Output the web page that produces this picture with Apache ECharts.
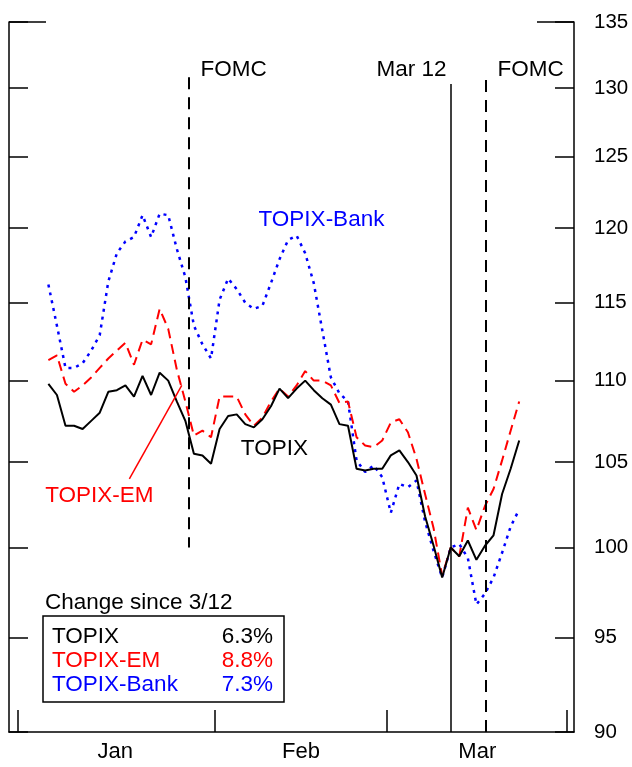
<!DOCTYPE html>
<html>
<head>
<meta charset="utf-8">
<script src="https://cdn.jsdelivr.net/npm/echarts@6/dist/echarts.min.js"></script>
<style>
  html, body { margin: 0; padding: 0; background: #fff; }
  #main { width: 632px; height: 767px; }
</style>
</head>
<body>
<div id="main"></div>
<script>
// trading days, index 47 = Mar 12 (=100)
var topix = [109.8,109.1,107.2,107.2,107.0,107.5,108.0,109.3,109.4,109.7,
             109.0,110.3,109.1,110.5,110.0,108.7,107.5,105.5,105.4,104.9,
             107.0,107.8,107.9,107.3,107.1,107.6,108.4,109.5,108.9,109.5,
             110.0,109.4,108.9,108.5,107.3,107.2,104.6,104.5,104.6,104.6,
             105.4,105.7,105.0,104.2,101.8,100.1,98.3,100.0,99.5,100.4,
             99.3,100.1,100.7,103.1,104.6,106.3];
var topixEM = [111.3,111.6,109.8,109.3,109.7,110.2,110.8,111.4,111.9,112.4,
               111.0,112.6,112.3,114.6,113.3,110.7,108.7,106.6,106.9,106.5,
               109.0,109.0,109.0,107.9,107.2,107.7,108.7,109.5,109.0,109.7,
               110.6,110.0,110.0,109.7,108.6,108.7,106.5,106.0,105.9,106.3,
               107.4,107.6,106.8,105.2,103.1,101.1,98.4,100.0,99.5,102.3,
               101.0,102.4,103.4,105.1,106.9,108.7];
var topixBank = [116.2,113.5,110.8,110.8,111.1,111.9,112.9,116.4,118.3,119.1,
                 119.4,120.9,119.4,121.0,120.9,118.6,116.7,113.5,112.3,111.4,
                 115.2,116.6,115.9,115.0,114.6,114.8,116.3,117.9,119.2,119.5,
                 118.3,116.3,113.2,110.2,109.2,108.7,105.1,104.4,104.8,104.1,
                 102.0,103.7,103.5,103.9,101.5,99.8,98.3,100.0,100.2,99.4,
                 96.8,97.4,98.3,99.7,101.2,102.2];

var yTicks = [90,95,100,105,110,115,120,125,130,135];
// month boundaries / label centres in trading-day units
var monthEdges = [-3.54, 19.47, 39.57, 60.6];
var monthNames = ['Jan','Feb','Mar'];
var monthMids = [7.8, 29.5, 50.1];

// event lines
var fomc1 = 16.44, mar12 = 47.05, fomc2 = 51.07;

var legendRows = [
  {name:'TOPIX', chg:'6.3%', color:'#000000'},
  {name:'TOPIX-EM', chg:'8.8%', color:'#ff0000'},
  {name:'TOPIX-Bank', chg:'7.3%', color:'#0000ff'}
];

var FONT = 'Liberation Sans, Arial, sans-serif';
var TXT = 22.5;

function pairs(arr){
  var out = [];
  for(var i = 0; i < arr.length; i++){
    out.push([i, arr[i]]);
  }
  return out;
}

function textPoint(x, y, txt, color, pos){
  return {
    coord:[x, y],
    symbol:'circle', symbolSize:1,
    itemStyle:{color:'rgba(0,0,0,0)'},
    label:{show:true, formatter:txt, position:pos, distance:0,
           color:color, fontSize:TXT, fontFamily:FONT}
  };
}

function yAxisCfg(pos, showLabel){
  return {
    type:'log', logBase:10, position:pos, min:90, max:135,
    axisLine:{show:true, onZero:false, lineStyle:{color:'#000', width:1.5}},
    axisTick:{show:true, inside:true, length:19, customValues:yTicks,
              lineStyle:{color:'#000', width:1.5}},
    axisLabel:{show:showLabel, customValues:yTicks, margin:20,
               color:'#000', fontSize:20.5, fontFamily:FONT},
    splitLine:{show:false}
  };
}

var myChart = echarts.init(document.getElementById('main'));

var blk = '#000';
var legendGraphics = [
  {type:'text', x:45, y:603, style:{text:'Change since 3/12', fill:blk, font:TXT + 'px ' + FONT,
     textVerticalAlign:'middle'}},
  {type:'rect', shape:{x:43, y:616, width:241, height:86},
   style:{fill:'none', stroke:blk, lineWidth:1.5}}
];
for(var r = 0; r < legendRows.length; r++){
  legendGraphics.push({type:'text', x:52, y:637 + r*24,
    style:{text:legendRows[r].name, fill:legendRows[r].color, font:TXT + 'px ' + FONT,
           textVerticalAlign:'middle'}});
  legendGraphics.push({type:'text', x:273, y:637 + r*24,
    style:{text:legendRows[r].chg, fill:legendRows[r].color, font:TXT + 'px ' + FONT,
           textAlign:'right', textVerticalAlign:'middle'}});
}
// longer ticks at the top of the frame
legendGraphics.push({type:'line', shape:{x1:9, y1:22, x2:46, y2:22}, style:{stroke:blk, lineWidth:1.5}});
legendGraphics.push({type:'line', shape:{x1:537, y1:22, x2:574, y2:22}, style:{stroke:blk, lineWidth:1.5}});

var option = {
  animation:false,
  backgroundColor:'#fff',
  grid:{left:9, right:58, top:22, bottom:35},
  xAxis:{
    type:'value', min:-4.6, max:61.4,
    axisLine:{show:true, onZero:false, lineStyle:{color:'#000', width:1.5}},
    axisTick:{show:true, inside:true, length:22, customValues:monthEdges,
              lineStyle:{color:'#000', width:1.5}},
    axisLabel:{show:true, customValues:monthMids, margin:9,
               color:'#000', fontSize:22, fontFamily:FONT,
               formatter:function(v){
                 for(var k = 0; k < monthMids.length; k++){
                   if(Math.abs(v - monthMids[k]) < 0.01) return monthNames[k];
                 }
                 return '';
               }},
    splitLine:{show:false}
  },
  yAxis:[yAxisCfg('left', false), yAxisCfg('right', true)],
  graphic:legendGraphics,
  series:[
    {
      name:'TOPIX-Bank', type:'line', yAxisIndex:1, data:pairs(topixBank),
      showSymbol:false, symbol:'none',
      lineStyle:{color:'#0000ff', width:2.5, type:[3,5]},
      markPoint:{silent:true, data:[textPoint(31.9, 120.6, 'TOPIX-Bank', '#0000ff', 'inside')]}
    },
    {
      name:'TOPIX-EM', type:'line', yAxisIndex:1, data:pairs(topixEM),
      showSymbol:false, symbol:'none',
      lineStyle:{color:'#ff0000', width:2, type:[10,6]},
      markPoint:{silent:true, data:[textPoint(5.95, 103.0, 'TOPIX-EM', '#ff0000', 'inside')]},
      markLine:{
        silent:true, symbol:['none','path://M0,10 L5,0 L10,10 L8.6,10 L5,2.6 L1.4,10 Z'], symbolSize:[0,12],
        lineStyle:{color:'#ff0000', width:1.5, type:'solid'},
        label:{show:false},
        data:[[{coord:[9.46,104.0]},{coord:[15.58,109.7]}]]
      }
    },
    {
      name:'TOPIX', type:'line', yAxisIndex:1, data:pairs(topix),
      showSymbol:false, symbol:'none',
      lineStyle:{color:'#000000', width:2},
      markPoint:{silent:true, data:[
        textPoint(26.4, 105.8, 'TOPIX', '#000', 'inside'),
        textPoint(17.72, 131.4, 'FOMC', '#000', 'right'),
        textPoint(46.58, 131.4, 'Mar 12', '#000', 'left'),
        textPoint(52.4, 131.4, 'FOMC', '#000', 'right')
      ]},
      markLine:{
        silent:true, symbol:'none', label:{show:false},
        data:[
          [{coord:[fomc1,130.8], lineStyle:{color:'#000', width:2, type:[12,8]}},{coord:[fomc1,100]}],
          [{coord:[mar12,130.3], lineStyle:{color:'#000', width:1.5, type:'solid'}},{coord:[mar12,90]}],
          [{coord:[fomc2,130.6], lineStyle:{color:'#000', width:2, type:[12,8]}},{coord:[fomc2,90]}]
        ]
      }
    }
  ]
};

myChart.setOption(option);
</script>
</body>
</html>
